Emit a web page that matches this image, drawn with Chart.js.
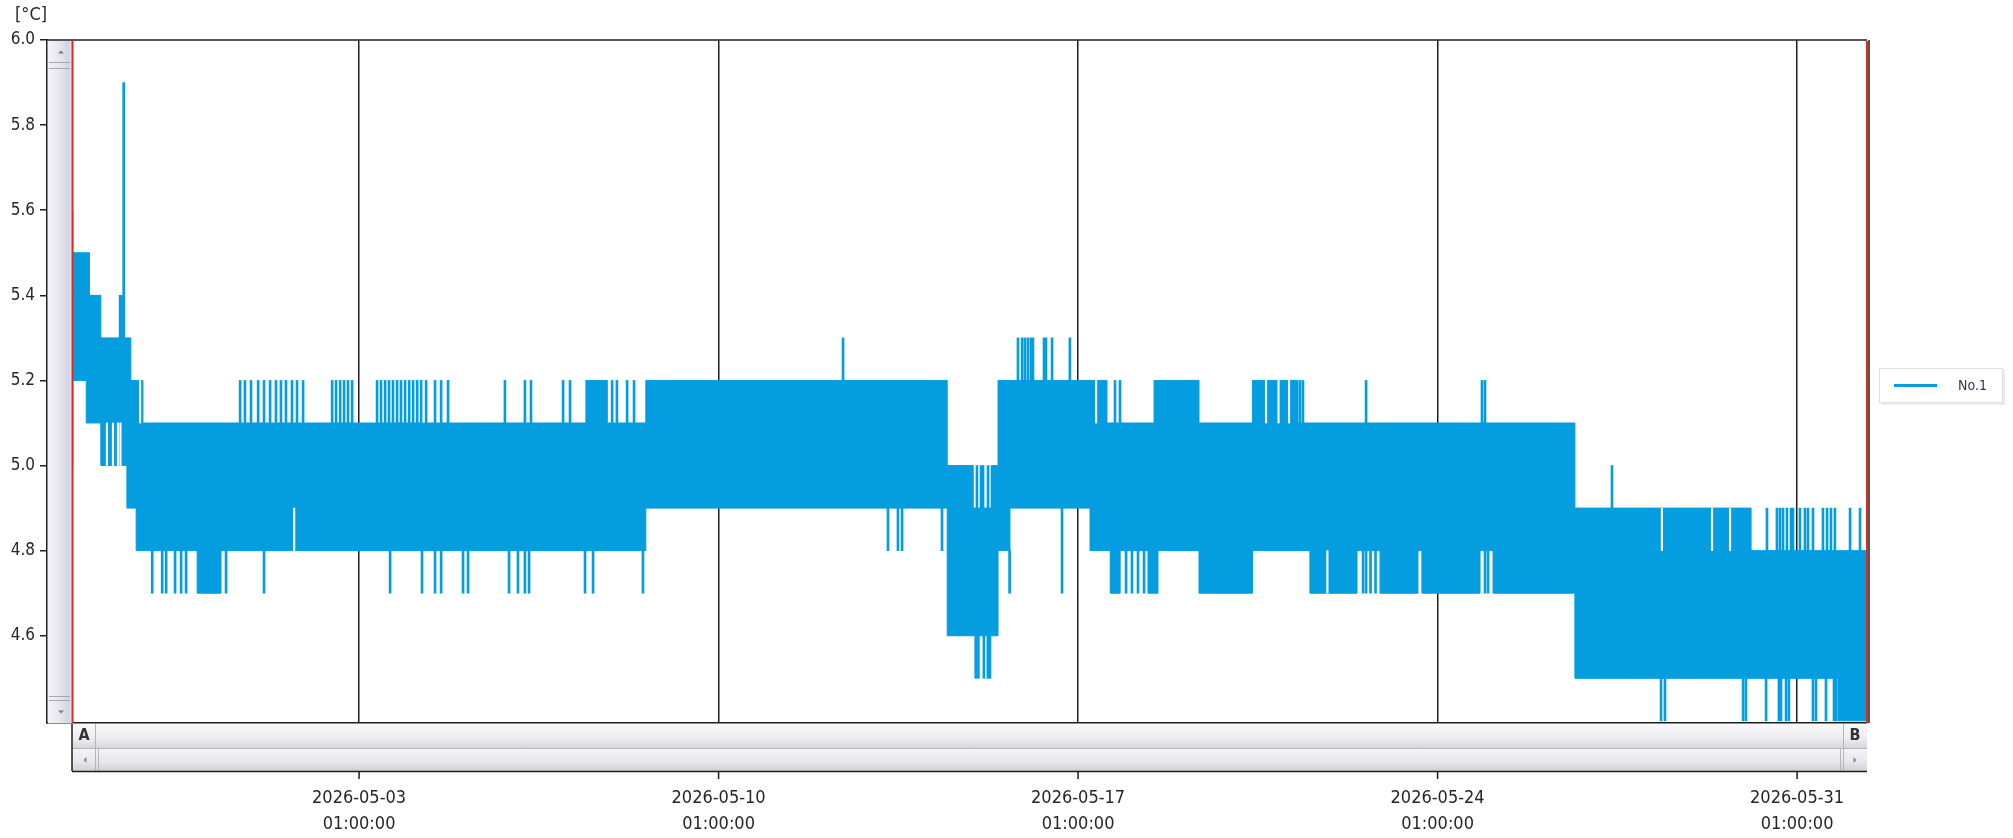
<!DOCTYPE html>
<html lang="en">

<head>
    <meta charset="UTF-8">
    <title>No.1 - temperature log</title>
    <script src="https://cdn.jsdelivr.net/npm/chart.js"></script>
    <style>
        body { margin: 0; background: #fff; }
        #wrap { position: relative; width: 2013px; height: 838px; }
    </style>
</head>

<body>
    <div id="wrap"><canvas id="graficoTemp"></canvas></div>
    <script>
        // axis range and ticks
        const xMin = '04-26 23:10';
        const xMax = '06-01 09:40';
        const dataStart = '04-27 10:50';
        const dataEnd = '06-01 09:40';
        const xTicks = ['05-03 01:00', '05-10 01:00', '05-17 01:00', '05-24 01:00', '05-31 01:00'];
        const yTicks = [4.6, 4.8, 5.0, 5.2, 5.4, 5.6, 5.8, 6.0];

        // band of the logged values: from each time until the next one, values swing between low and high
        const stepTimes = ['04-27 10:50', '04-27 17:30', '04-27 19:00', '04-28 00:20', '04-28 12:30', '04-28 14:20',
            '04-28 16:50', '04-28 20:00', '04-29 21:20', '04-30 08:30', '05-07 11:00', '05-07 21:00', '05-08 15:00',
            '05-14 11:50', '05-15 00:00', '05-15 09:15', '05-15 11:35', '05-15 17:10', '05-17 06:35', '05-17 14:30',
            '05-17 16:00', '05-17 20:40', '05-18 09:40', '05-18 12:30', '05-18 14:20', '05-19 09:30', '05-20 10:30',
            '05-21 07:45', '05-21 13:20', '05-22 11:20', '05-22 22:05', '05-23 15:50', '05-23 17:40', '05-24 20:50',
            '05-25 02:55', '05-26 17:10', '05-30 03:30', '05-31 20:05'];
        const stepLow = [5.2, 5.1, 5.1, 5.0, 4.9, 4.9, 4.8, 4.8, 4.7, 4.8, 4.8, 4.8, 4.9,
            4.6, 4.6, 4.6, 4.8, 4.9, 4.8, 4.8, 4.7, 4.8, 4.7, 4.7, 4.8, 4.7, 4.8,
            4.8, 4.7, 4.8, 4.7, 4.8, 4.7, 4.8, 4.7, 4.5, 4.5, 4.4];
        const stepHigh = [5.5, 5.5, 5.4, 5.3, 5.3, 5.2, 5.2, 5.1, 5.1, 5.1, 5.2, 5.1, 5.2,
            5.0, 4.9, 5.0, 5.2, 5.2, 5.2, 5.1, 5.1, 5.1, 5.1, 5.2, 5.2, 5.1, 5.2,
            5.1, 5.1, 5.1, 5.1, 5.1, 5.1, 5.1, 5.1, 4.9, 4.8, 4.8];

        // single readings outside the band (name = from_to)
        const spikes_50_56 = ['04-27 10:50'];
        const spikes_53_54 = ['04-28 09:20', '04-28 10:00'];
        const spikes_53_59 = ['04-28 11:00'];
        const spikes_47_48 = ['04-29 00:20', '04-29 05:00', '04-29 06:50', '04-29 11:00', '04-29 13:50', '04-29 16:10',
            '04-30 10:50', '05-01 04:35', '05-03 15:30', '05-04 06:25', '05-04 12:30', '05-04 15:20', '05-05 01:35',
            '05-05 03:55', '05-05 23:05', '05-06 03:15', '05-06 06:30', '05-06 08:25', '05-07 10:35', '05-07 14:20',
            '05-08 13:40', '05-15 17:00', '05-17 23:25', '05-18 02:10', '05-18 05:00', '05-18 07:50', '05-22 14:10',
            '05-22 15:35', '05-22 17:40', '05-22 20:00', '05-24 23:10', '05-25 00:35'];
        const spikes_51_52 = ['04-30 17:25', '04-30 19:40', '04-30 22:30', '05-01 01:50', '05-01 04:35', '05-01 07:25',
            '05-01 10:10', '05-01 12:30', '05-01 14:50', '05-01 17:40', '05-01 20:00', '05-01 22:50', '05-02 12:25',
            '05-02 14:15', '05-02 16:10', '05-02 18:00', '05-02 19:50', '05-02 21:45', '05-03 09:25', '05-03 11:15',
            '05-03 13:10', '05-03 15:00', '05-03 16:50', '05-03 18:45', '05-03 20:35', '05-03 22:30', '05-04 00:25',
            '05-04 02:15', '05-04 04:10', '05-04 06:00', '05-04 08:20', '05-04 12:30', '05-04 15:20', '05-04 18:35',
            '05-05 21:10', '05-06 06:30', '05-06 09:20', '05-07 00:20', '05-07 03:35', '05-07 23:15', '05-08 01:30',
            '05-08 06:15', '05-08 09:30', '05-17 18:15', '05-17 20:35', '05-21 08:40', '05-21 10:05', '05-22 15:35',
            '05-24 21:45', '05-24 23:10'];
        const spikes_52_53 = ['05-12 11:10', '05-15 20:55', '05-15 22:50', '05-16 00:10', '05-16 01:35', '05-16 03:00',
            '05-16 03:55', '05-16 09:05', '05-16 10:00', '05-16 12:50', '05-16 21:10'];
        const spikes_48_49 = ['05-13 08:10', '05-13 12:50', '05-13 14:45', '05-14 09:25', '05-30 10:55', '05-30 15:35',
            '05-30 17:00', '05-30 18:25', '05-30 20:15', '05-30 22:10', '05-30 23:05', '05-31 02:20', '05-31 04:40',
            '05-31 06:05', '05-31 08:25', '05-31 13:05', '05-31 15:00', '05-31 16:50', '05-31 18:40', '06-01 01:45',
            '06-01 06:25'];
        const spikes_49_50 = ['05-15 01:45', '05-15 03:40', '05-15 04:35', '05-15 06:55', '05-15 08:45', '05-27 10:30'];
        const spikes_45_46 = ['05-15 01:10', '05-15 02:25', '05-15 05:00', '05-15 06:50', '05-15 07:50'];
        const spikes_47_49 = ['05-16 17:30'];
        const spikes_44_45 = ['05-28 09:25', '05-28 11:15', '05-29 23:45', '05-30 01:05', '05-30 10:30', '05-30 16:30',
            '05-30 17:30', '05-30 19:50', '05-30 21:10', '05-31 08:25', '05-31 09:50', '05-31 14:30', '05-31 18:15',
            '05-31 19:10'];

        // short breaks inside the band
        const gaps_50_51 = ['04-28 03:10', '04-28 06:00', '04-28 08:20', '04-28 09:30'];
        const gaps_51_52 = ['04-28 18:40', '05-17 09:25', '05-20 16:50', '05-20 22:40', '05-21 03:35'];
        const gaps_48_49 = ['05-01 18:40', '05-28 09:50', '05-29 09:15', '05-29 17:40'];
        const gaps_47_48 = ['05-21 21:30'];

        const azul = '#049de0';
        const fonte = "'DejaVu Sans Condensed', 'DejaVu Sans', sans-serif";

        function T(s) {
            const [md, hm] = s.split(' ');
            const [m, d] = md.split('-').map(Number);
            const [h, mi] = hm.split(':').map(Number);
            return Date.UTC(2026, m - 1, d, h, mi);
        }
        const dois = n => String(n).padStart(2, '0');

        function banda(valores) {
            const pts = stepTimes.map((t, i) => ({ x: T(t), y: valores[i] }));
            pts.push({ x: T(dataEnd), y: valores[valores.length - 1] });
            return pts;
        }
        function barras(lista, lo, hi) {
            return lista.map(t => ({ x: T(t), y: [lo, hi] }));
        }

        const picos = [].concat(
            barras(spikes_50_56, 5.0, 5.6), barras(spikes_53_54, 5.3, 5.4), barras(spikes_53_59, 5.3, 5.9),
            barras(spikes_47_48, 4.7, 4.8), barras(spikes_51_52, 5.1, 5.2), barras(spikes_52_53, 5.2, 5.3),
            barras(spikes_48_49, 4.8, 4.9), barras(spikes_49_50, 4.9, 5.0), barras(spikes_45_46, 4.5, 4.6),
            barras(spikes_47_49, 4.7, 4.9), barras(spikes_44_45, 4.4, 4.5));
        const falhas = [].concat(
            barras(gaps_50_51, 5.0, 5.1), barras(gaps_51_52, 5.1, 5.2),
            barras(gaps_48_49, 4.8, 4.9), barras(gaps_47_48, 4.7, 4.8));

        function linha(ctx, x1, y1, x2, y2) {
            ctx.beginPath(); ctx.moveTo(x1, y1); ctx.lineTo(x2, y2); ctx.stroke();
        }
        function tri(ctx, cx, cy, r, dir) {
            ctx.beginPath();
            if (dir === 'up') { ctx.moveTo(cx - r, cy + r / 2); ctx.lineTo(cx + r, cy + r / 2); ctx.lineTo(cx, cy - r / 2); }
            if (dir === 'down') { ctx.moveTo(cx - r, cy - r / 2); ctx.lineTo(cx + r, cy - r / 2); ctx.lineTo(cx, cy + r / 2); }
            if (dir === 'left') { ctx.moveTo(cx + r / 2, cy - r); ctx.lineTo(cx + r / 2, cy + r); ctx.lineTo(cx - r / 2, cy); }
            if (dir === 'right') { ctx.moveTo(cx - r / 2, cy - r); ctx.lineTo(cx - r / 2, cy + r); ctx.lineTo(cx + r / 2, cy); }
            ctx.closePath(); ctx.fill();
        }

        // frame, scroll bars, cursors A/B and legend box of the logger software
        const moldura = {
            id: 'moldura',
            afterDraw(chart) {
                const ctx = chart.ctx;
                const a = chart.chartArea;
                const sx = chart.scales.x;
                const xa = Math.round(sx.getPixelForValue(T(dataStart)));
                const xb = Math.round(sx.getPixelForValue(T(dataEnd)));
                ctx.save();

                ctx.fillStyle = '#262626';
                ctx.font = '18px ' + fonte;
                ctx.textBaseline = 'middle';
                ctx.textAlign = 'left';
                ctx.fillText('[°C]', 15, 15);

                // vertical scroll bar
                const gv = ctx.createLinearGradient(a.left + 1, 0, xa, 0);
                gv.addColorStop(0, '#f4f4f8');
                gv.addColorStop(0.55, '#e3e3ec');
                gv.addColorStop(0.85, '#d2d3e4');
                gv.addColorStop(1, '#dce8f4');
                ctx.fillStyle = gv;
                ctx.fillRect(a.left + 1, a.top + 1, xa - a.left - 1, a.bottom - a.top - 1);
                ctx.strokeStyle = '#a4a6b4';
                ctx.lineWidth = 1;
                linha(ctx, a.left + 2, a.top + 22.5, xa - 2, a.top + 22.5);
                linha(ctx, a.left + 2, a.top + 28.5, xa - 2, a.top + 28.5);
                linha(ctx, a.left + 2, a.bottom - 26.5, xa - 2, a.bottom - 26.5);
                linha(ctx, a.left + 2, a.bottom - 22.5, xa - 2, a.bottom - 22.5);
                ctx.fillStyle = '#7a7a84';
                tri(ctx, a.left + 14, a.top + 12, 3, 'up');
                tri(ctx, a.left + 14, a.bottom - 11, 3, 'down');

                // horizontal scroll bar
                const y1 = a.bottom + 1, y2 = a.bottom + 25, y3 = a.bottom + 48;
                const gh = ctx.createLinearGradient(0, y1, 0, y2);
                gh.addColorStop(0, '#fafafa');
                gh.addColorStop(0.6, '#ececf0');
                gh.addColorStop(1, '#d6d6de');
                ctx.fillStyle = gh;
                ctx.fillRect(xa, y1, xb - xa, y2 - y1);
                const gh2 = ctx.createLinearGradient(0, y2, 0, y3);
                gh2.addColorStop(0, '#f6f6f8');
                gh2.addColorStop(0.6, '#e6e6ec');
                gh2.addColorStop(1, '#d0d0d8');
                ctx.fillStyle = gh2;
                ctx.fillRect(xa, y2, xb - xa, y3 - y2);
                ctx.strokeStyle = '#b4b4bc';
                linha(ctx, xa, y2 + 0.5, xb, y2 + 0.5);
                linha(ctx, xa + 23.5, y1, xa + 23.5, y3);
                linha(ctx, xa + 26.5, y2, xa + 26.5, y3);
                linha(ctx, xb - 23.5, y1, xb - 23.5, y3);
                linha(ctx, xb - 26.5, y2, xb - 26.5, y3);
                ctx.strokeStyle = '#1e1e1e';
                ctx.lineWidth = 1.5;
                linha(ctx, xa, y3 + 0.5, xb, y3 + 0.5);
                linha(ctx, xa, y1, xa, y3);
                ctx.fillStyle = '#333';
                ctx.font = 'bold 16px ' + fonte;
                ctx.textAlign = 'center';
                ctx.fillText('A', xa + 12, y1 + 12);
                ctx.fillText('B', xb - 12, y1 + 12);
                ctx.fillStyle = '#8a8a92';
                tri(ctx, xa + 13, y2 + 12, 3, 'left');
                tri(ctx, xb - 12, y2 + 12, 3, 'right');

                // tick marks under the scroll bar
                ctx.strokeStyle = '#1e1e1e';
                ctx.lineWidth = 1.5;
                sx.ticks.forEach(t => {
                    const px = sx.getPixelForValue(t.value);
                    linha(ctx, px, y3, px, y3 + 8);
                });

                // top border and cursors
                linha(ctx, a.left, a.top, a.right, a.top);
                linha(ctx, xb + 2, a.top, xb + 2, a.bottom);
                ctx.strokeStyle = '#e42a1c';
                ctx.lineWidth = 2;
                linha(ctx, xa + 0.5, a.top + 1, xa + 0.5, a.bottom);
                linha(ctx, xb, a.top + 1, xb, a.bottom);

                // legend
                const lx = 1879, ly = 368, lw = 124, lh = 35;
                ctx.fillStyle = '#ececf0';
                ctx.fillRect(lx + 2, ly + 2, lw, lh);
                ctx.fillStyle = '#ffffff';
                ctx.fillRect(lx, ly, lw, lh);
                ctx.strokeStyle = '#dedee4';
                ctx.lineWidth = 1;
                ctx.strokeRect(lx + 0.5, ly + 0.5, lw - 1, lh - 1);
                const ds = chart.data.datasets[2];
                ctx.strokeStyle = ds.borderColor;
                ctx.lineWidth = 3;
                linha(ctx, lx + 15, ly + 17.5, lx + 58, ly + 17.5);
                ctx.fillStyle = '#2c3854';
                ctx.font = '14px ' + fonte;
                ctx.textAlign = 'left';
                ctx.fillText(ds.label, lx + 79, ly + 18);
                ctx.restore();
            }
        };

        const ctx = document.getElementById('graficoTemp').getContext('2d');
        const graficoTemp = new Chart(ctx, {
            type: 'line',
            data: {
                datasets: [
                    {
                        type: 'bar',
                        label: 'falhas',
                        data: falhas,
                        backgroundColor: '#ffffff',
                        barThickness: 1.5,
                        grouped: false,
                        order: 0
                    },
                    {
                        type: 'bar',
                        label: 'picos',
                        data: picos,
                        backgroundColor: azul,
                        barThickness: 2,
                        grouped: false,
                        order: 1
                    },
                    {
                        label: 'No.1',
                        data: banda(stepHigh),
                        borderColor: azul,
                        borderWidth: 1,
                        pointRadius: 0,
                        stepped: true,
                        fill: false,
                        order: 2
                    },
                    {
                        label: 'No.1 min',
                        data: banda(stepLow),
                        borderColor: azul,
                        backgroundColor: azul,
                        borderWidth: 1,
                        pointRadius: 0,
                        stepped: true,
                        fill: '-1',
                        order: 3
                    }
                ]
            },
            options: {
                responsive: true,
                maintainAspectRatio: false,
                animation: false,
                events: [],
                layout: { padding: { top: 40, right: 146, left: 0, bottom: 0 } },
                plugins: {
                    legend: { display: false },
                    tooltip: { enabled: false }
                },
                scales: {
                    x: {
                        type: 'linear',
                        min: T(xMin),
                        max: T(xMax),
                        offset: false,
                        afterFit: s => { s.height = 115; },
                        afterBuildTicks: s => { s.ticks = xTicks.map(t => ({ value: T(t) })); },
                        grid: { color: '#1e1e1e', lineWidth: 1.5, drawTicks: false, offset: false },
                        border: { display: true, color: '#1e1e1e', width: 1.5 },
                        ticks: {
                            autoSkip: false,
                            maxRotation: 0,
                            padding: 63,
                            color: '#262626',
                            font: { family: fonte, size: 18, lineHeight: 1.42 },
                            callback: function (value) {
                                const d = new Date(value);
                                return [d.getUTCFullYear() + '-' + dois(d.getUTCMonth() + 1) + '-' + dois(d.getUTCDate()),
                                    dois(d.getUTCHours()) + ':' + dois(d.getUTCMinutes()) + ':00'];
                            }
                        }
                    },
                    y: {
                        min: 4.395,
                        max: 6.0,
                        afterFit: s => { s.width = 47; },
                        afterBuildTicks: s => { s.ticks = yTicks.map(v => ({ value: v })); },
                        grid: { drawOnChartArea: false, drawTicks: true, tickLength: 7, color: '#1e1e1e', lineWidth: 1.5 },
                        border: { display: true, color: '#1e1e1e', width: 1.5 },
                        ticks: {
                            padding: 5,
                            color: '#262626',
                            font: { family: fonte, size: 17 },
                            callback: v => v.toFixed(1)
                        }
                    }
                }
            },
            plugins: [moldura]
        });
    </script>
</body>

</html>
